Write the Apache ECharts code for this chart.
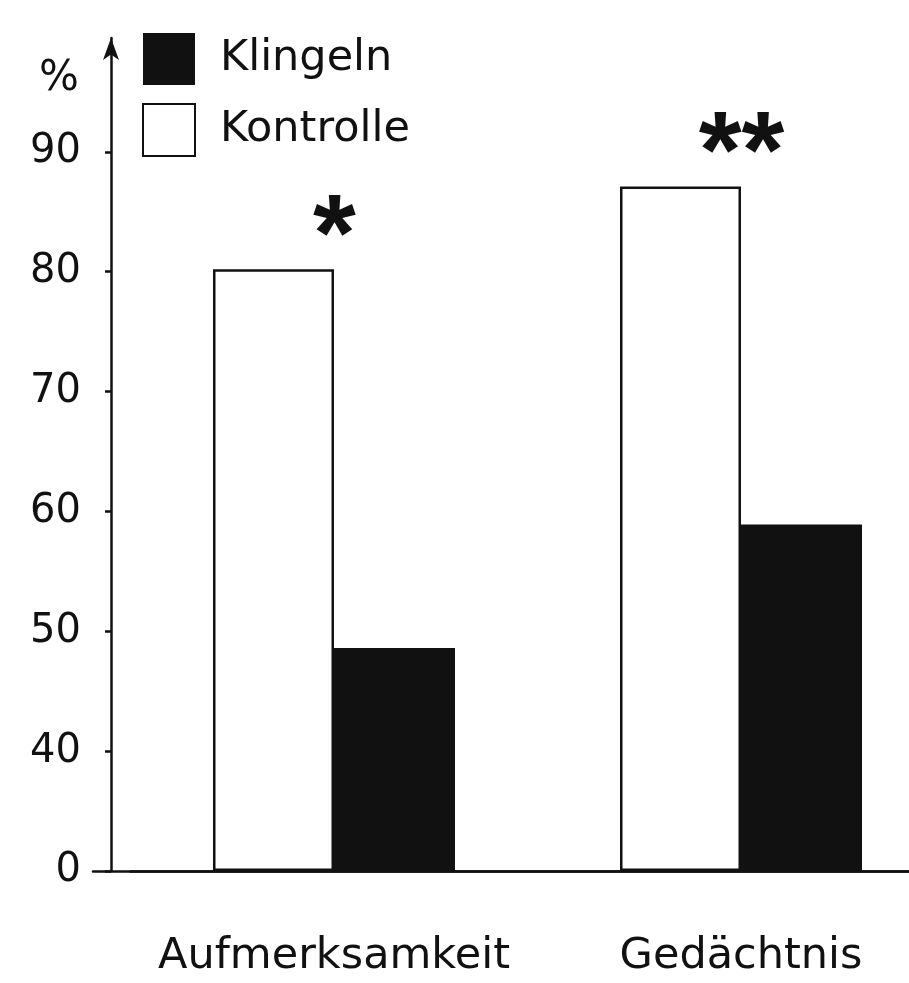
<!DOCTYPE html>
<html>
<head>
<meta charset="utf-8">
<script src="https://cdn.jsdelivr.net/npm/echarts@6/dist/echarts.min.js"></script>
<style>
  html, body { margin: 0; padding: 0; background: #fff; }
  #chart { width: 909px; height: 983px; }
</style>
</head>
<body>
<div id="chart"></div>
<script>
// Task categories and percentages per condition
const categories = ['Aufmerksamkeit', 'Gedächtnis'];
const kontrolle = [80.2, 87.1];
const klingeln = [48.6, 58.9];
const significance = ['*', '**'];

// Broken value axis: the lowest tick is labelled 0, the rest run 40–90
const yTickValues = [30, 40, 50, 60, 70, 80, 90];
const yTickLabels = ['0', '40', '50', '60', '70', '80', '90'];

const ink = '#111';
const font = 'DejaVu Sans';

const chart = echarts.init(document.getElementById('chart'));

chart.setOption({
  backgroundColor: '#fff',
  animation: false,
  legend: {
    orient: 'vertical',
    left: 137,
    top: 28,
    itemWidth: 52,
    itemHeight: 52,
    itemGap: 18,
    icon: 'rect',
    selectedMode: false,
    data: ['Klingeln', 'Kontrolle'],
    textStyle: { color: ink, fontFamily: font, fontSize: 43, padding: [0, 0, 0, 20] }
  },
  grid: [
    { left: 130.5, width: 814, top: 38, bottom: 112, outerBoundsMode: 'none', containLabel: false },
    { left: 93, right: 0, top: 38, bottom: 112, outerBoundsMode: 'none', containLabel: false }
  ],
  xAxis: [
    {
      type: 'category',
      gridIndex: 0,
      data: categories,
      axisLine: { onZero: false, lineStyle: { color: ink, width: 2.5 } },
      axisTick: { show: false },
      axisLabel: { color: ink, fontFamily: font, fontSize: 43, margin: 64, interval: 0, hideOverlap: false }
    },
    {
      // baseline extending left of the value axis
      type: 'value',
      gridIndex: 1,
      min: 0,
      max: 1,
      axisLine: { show: true, onZero: false, lineStyle: { color: ink, width: 2.5 } },
      axisTick: { show: false },
      axisLabel: { show: false },
      splitLine: { show: false }
    }
  ],
  yAxis: [
    {
      type: 'value',
      gridIndex: 0,
      min: 30,
      max: 99.5,
      interval: 10,
      startValue: 30,
      offset: 19.5,
      name: '%',
      nameLocation: 'end',
      nameGap: -20,
      nameTextStyle: {
        color: ink, fontFamily: font, fontSize: 42,
        align: 'right', verticalAlign: 'top', padding: [0, 32, 0, 0]
      },
      axisLine: {
        show: true,
        symbol: ['none', 'arrow'],
        symbolSize: [12, 22],
        lineStyle: { color: ink, width: 2.5 }
      },
      axisTick: {
        show: true, inside: false, length: 6,
        customValues: yTickValues,
        lineStyle: { color: ink, width: 2.5 }
      },
      axisLabel: {
        color: ink, fontFamily: font, fontSize: 40, margin: 30,
        customValues: yTickValues,
        formatter: v => {
          const i = yTickValues.indexOf(v);
          return i >= 0 ? yTickLabels[i] : '';
        }
      },
      splitLine: { show: false }
    },
    { type: 'value', gridIndex: 1, show: false }
  ],
  series: [
    {
      name: 'Kontrolle',
      type: 'bar',
      xAxisIndex: 0,
      yAxisIndex: 0,
      data: kontrolle,
      barWidth: 121,
      barGap: '0%',
      clip: true,
      itemStyle: { color: '#fff', borderColor: ink, borderWidth: 2.5 },
      label: {
        show: true,
        position: 'top',
        offset: [61, 30],
        formatter: p => significance[p.dataIndex],
        color: ink,
        fontFamily: 'Liberation Sans',
        fontWeight: 'bold',
        fontSize: 110
      }
    },
    {
      name: 'Klingeln',
      type: 'bar',
      xAxisIndex: 0,
      yAxisIndex: 0,
      data: klingeln,
      barWidth: 121,
      barGap: '0%',
      clip: true,
      itemStyle: { color: ink }
    }
  ]
});
</script>
</body>
</html>
